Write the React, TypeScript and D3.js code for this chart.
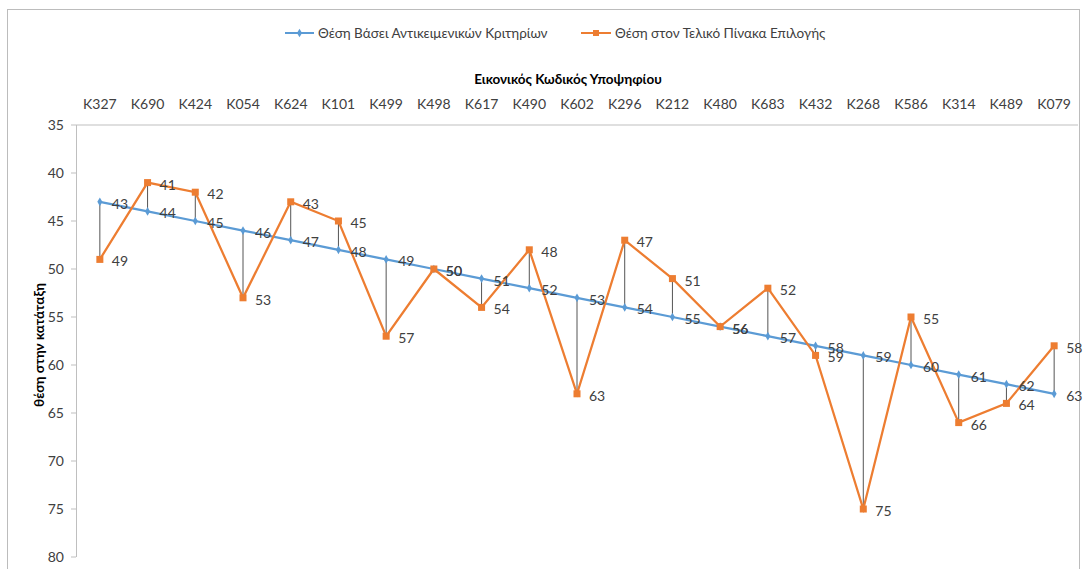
import React from "react";
import * as d3 from "d3";

const categories = ["K327","K690","K424","K054","K624","K101","K499","K498","K617","K490","K602","K296","K212","K480","K683","K432","K268","K586","K314","K489","K079"];
const objectiveRank = [43,44,45,46,47,48,49,50,51,52,53,54,55,56,57,58,59,60,61,62,63];
const finalRank = [49,41,42,53,43,45,57,50,54,48,63,47,51,56,52,59,75,55,66,64,58];
const yTicks = [35,40,45,50,55,60,65,70,75,80];
const seriesNames = ["Θέση Βάσει Αντικειμενικών Κριτηρίων", "Θέση στον Τελικό Πίνακα Επιλογής"];
const xTitle = "Εικονικός Κωδικός Υποψηφίου";
const yTitle = "θέση στην κατάταξη";

const W = 1085, H = 569;
const left = 76, right = 1078, top = 125, bottom = 557;
const BLUE = "#5b9bd5", ORANGE = "#ed7d31";
const FONT = "Lato, 'Open Sans', sans-serif";

export default function App() {
  const x = d3.scaleBand<string>().domain(categories).range([left, right]);
  const y = d3.scaleLinear().domain([35, 80]).range([top, bottom]);
  const cx = (c: string) => (x(c) as number) + x.bandwidth() / 2;
  const line = d3.line<number>().x((_, i) => cx(categories[i])).y((d) => y(d));

  return (
    <svg width={W} height={H} style={{ position: "absolute", left: 0, top: 0 }} fontFamily={FONT}>
      <rect x={0} y={0} width={W} height={H} fill="#fff" />
      <rect x={7.5} y={9.5} width={1072} height={H} fill="none" stroke="#bcbcbc" strokeWidth={1} />

      {/* legend */}
      <g>
        <line x1={285} x2={314} y1={33} y2={33} stroke={BLUE} strokeWidth={2} />
        <path d={d3.symbol(d3.symbolDiamond, 22)() as string} transform="translate(299.5,33)" fill={BLUE} />
        <text x={318} y={38} fontSize={13.5} fill="#404040">{seriesNames[0]}</text>
        <line x1={581} x2={611} y1={33} y2={33} stroke={ORANGE} strokeWidth={2} />
        <rect x={593} y={30} width={6} height={6} fill={ORANGE} />
        <text x={615} y={38} fontSize={13.5} fill="#404040">{seriesNames[1]}</text>
      </g>

      {/* x title */}
      <text x={568} y={84} textAnchor="middle" fontSize={13.5} fontWeight="bold" fill="#000">{xTitle}</text>
      {categories.map((c) => (
        <text key={c} x={cx(c)} y={109} textAnchor="middle" fontSize={14} fill="#404040">{c}</text>
      ))}

      {/* axes */}
      <line x1={left} x2={right} y1={top} y2={top} stroke="#bfbfbf" />
      <line x1={left + 0.5} x2={left + 0.5} y1={top} y2={bottom} stroke="#bfbfbf" />
      {yTicks.map((t) => (
        <g key={t}>
          <line x1={left - 5} x2={left} y1={y(t)} y2={y(t)} stroke="#bfbfbf" />
          <text x={left - 12} y={y(t) + 5} textAnchor="end" fontSize={14} fill="#404040">{t}</text>
        </g>
      ))}
      <text transform={`translate(44,${(top + bottom) / 2 + 4}) rotate(-90)`} textAnchor="middle" fontSize={13.5} fontWeight="bold" fill="#000">{yTitle}</text>

      {/* high-low lines */}
      {categories.map((c, i) => (
        <line key={c} x1={cx(c)} x2={cx(c)} y1={y(objectiveRank[i])} y2={y(finalRank[i])} stroke="#555" strokeWidth={1} />
      ))}

      {/* series */}
      <path d={line(objectiveRank) as string} fill="none" stroke={BLUE} strokeWidth={2.25} />
      <path d={line(finalRank) as string} fill="none" stroke={ORANGE} strokeWidth={2.25} />
      {objectiveRank.map((v, i) => (
        <path key={"b" + i} d={d3.symbol(d3.symbolDiamond, 22)() as string} transform={`translate(${cx(categories[i])},${y(v)})`} fill={BLUE} />
      ))}
      {finalRank.map((v, i) => (
        <rect key={"o" + i} x={cx(categories[i]) - 3.5} y={y(v) - 3.5} width={7} height={7} fill={ORANGE} />
      ))}

      {/* labels */}
      {objectiveRank.map((v, i) => (
        <text key={"bl" + i} x={cx(categories[i]) + 12} y={y(v) + 7} fontSize={14} fill="#404040">{v}</text>
      ))}
      {finalRank.map((v, i) => (
        <text key={"ol" + i} x={cx(categories[i]) + 12} y={y(v) + 7} fontSize={14} fill="#404040">{v}</text>
      ))}
    </svg>
  );
}
